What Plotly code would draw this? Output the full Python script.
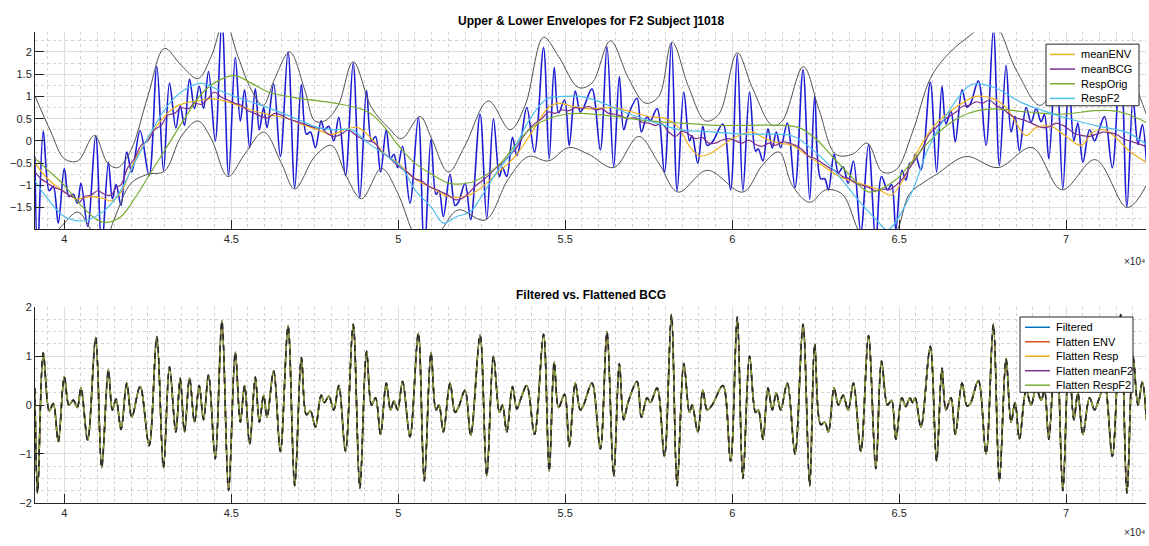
import plotly.graph_objects as go

# ---------------- data (sample index) ----------------
beat_x = [39120, 39200, 39370, 39550, 39670, 39820, 40000, 40140, 40270, 40390, 40500, 40700,
          40940, 41120, 41320, 41440, 41550, 41700, 41870, 42020, 42270, 42540, 42770, 42970,
          43150, 43340, 43470, 43600, 43750, 43900, 44040, 44170, 44320, 44520, 44720, 44920,
          45120, 45270, 45400, 45550, 45720, 45840, 45970, 46070, 46270, 46470, 46700, 46900,
          47100, 47250, 47370, 47520, 47690, 47790, 47920, 48070, 48220, 48420, 48650, 48850,
          49050, 49200, 49320, 49470, 49640, 49770, 49870, 49980, 50130, 50350, 50600, 50780,
          50980, 51130, 51220, 51350, 51550, 51700, 51800, 52000, 52170, 52450, 52650, 52850,
          53030, 53120, 53250, 53420, 53550, 53680, 53850, 54080, 54350, 54520, 54670, 54800,
          54980, 55120, 55300, 55450, 55550, 55800, 56050, 56250, 56450, 56620, 56750, 56880,
          57150, 57280, 57450, 57550, 57750, 57970, 58180, 58350, 58550, 58720, 58800, 58970,
          59120, 59250, 59400, 59720, 59950, 60150, 60320, 60520, 60700, 60780, 60920, 61070,
          61200, 61320, 61450, 61650, 61880, 62120, 62320, 62470, 62650, 62770, 62880, 63050,
          63180, 63320, 63470, 63630, 63850, 64080, 64300, 64470, 64650, 64770, 64900, 65080,
          65200, 65320, 65400, 65480, 65650, 65930, 66120, 66280, 66400, 66550, 66680, 66880,
          67030, 67130, 67370, 67600, 67820, 68000, 68200, 68350, 68470, 68600, 68800, 68950,
          69100, 69250, 69350, 69480, 69700, 69900, 70080, 70230, 70350, 70500, 70700, 70850,
          70980, 71150, 71380, 71630, 71820, 72000, 72150, 72280, 72400]

bcg_flat = [0.35, -1.80, 1.07, -0.12, 0.03, -0.75, 0.58, 0.00, 0.10, -0.05, 0.35, -0.72,
            1.38, -1.28, 0.72, -0.10, 0.12, -0.50, 0.45, -0.25, 0.38, -0.83, 1.40, -1.28,
            0.78, -0.55, 0.55, -0.55, 0.55, -0.35, 0.40, -0.30, 0.62, -1.10, 1.72, -1.75,
            1.08, -0.35, 0.40, -0.80, 0.57, -0.35, 0.20, -0.25, 0.70, -0.95, 1.62, -1.65,
            0.97, -0.20, -0.12, -0.45, 0.20, 0.05, 0.18, -0.10, 0.40, -0.95, 1.65, -1.70,
            1.10, 0.00, 0.15, -0.60, 0.45, -0.10, 0.08, -0.10, 0.48, -0.65, 1.47, -1.55,
            1.07, -0.10, 0.00, -0.55, 0.45, -0.15, -0.05, 0.30, -0.62, 1.43, -1.45, 1.00,
            -0.15, 0.00, -0.55, 0.38, -0.08, 0.15, 0.40, -0.60, 1.45, -1.35, 0.88, -0.05,
            0.22, -0.85, 0.45, -0.10, 0.00, 0.45, -0.90, 1.50, -1.45, 0.85, -0.30, 0.05,
            0.48, -0.25, 0.15, 0.05, 0.35, -1.05, 1.85, -1.65, 0.85, -0.15, 0.00, -0.55,
            0.30, -0.10, 0.00, 0.40, -1.15, 1.80, -1.50, 1.00, -0.15, -0.10, -0.70, 0.35,
            -0.10, 0.25, -0.10, 0.45, -1.00, 1.65, -1.65, 1.25, -0.40, -0.35, -0.55, 0.35,
            0.00, 0.20, -0.10, 0.45, -0.95, 1.42, -1.30, 0.90, 0.00, 0.10, -0.70, 0.15,
            -0.03, 0.15, 0.05, 0.15, -0.45, 1.20, -1.15, 0.75, -0.10, 0.15, -0.60, 0.45,
            -0.02, 0.03, 0.50, -1.00, 1.65, -1.55, 0.95, -0.35, 0.05, -0.70, 0.30, 0.00,
            0.35, 0.10, 0.30, -0.70, 1.60, -1.75, 1.00, -0.30, 0.25, -0.60, 0.15, -0.10,
            0.12, 0.40, -1.05, 1.85, -1.80, 1.00, 0.00, 0.47, -0.30]

bcg_raw = [-0.35, -2.55, 0.22, -1.12, -1.02, -1.85, -0.62, -1.25, -1.20, -1.40, -0.95, -1.92,
           0.12, -2.43, -0.48, -1.30, -0.98, -1.45, -0.25, -0.70, 0.23, -0.78, 1.67, -0.66,
           1.30, 0.29, 0.79, 0.35, 1.39, 0.73, 1.23, 0.73, 1.56, 0.00, 2.72, -0.77,
           1.88, 0.45, 1.15, -0.15, 1.17, 0.25, 0.75, 0.30, 1.28, -0.35, 2.00, -1.05,
           1.27, 0.15, 0.20, -0.15, 0.45, 0.25, 0.33, 0.00, 0.53, -0.78, 1.75, -1.27,
           1.13, 0.00, 0.10, -0.70, 0.25, -0.40, -0.30, -0.60, -0.12, -1.40, 0.52, -2.55,
           0.05, -1.20, -1.12, -1.70, -0.75, -1.45, -1.38, -0.95, -1.77, 0.60, -1.75, 0.50,
           -0.80, -0.60, -0.80, 0.08, -0.33, 0.05, 0.75, -0.25, 2.10, -0.40, 1.65, 0.63,
           0.92, -0.10, 1.12, 0.65, 0.75, 1.17, -0.20, 2.12, -0.58, 1.45, 0.25, 0.57,
           0.96, 0.20, 0.55, 0.45, 0.73, -0.70, 2.20, -1.12, 1.10, 0.00, 0.12, -0.50,
           0.33, -0.10, -0.03, 0.38, -1.10, 1.94, -1.12, 1.10, -0.23, -0.18, -0.45, 0.27,
           -0.16, 0.20, -0.15, 0.40, -1.05, 1.60, -1.32, 1.00, -0.85, -0.85, -1.10, -0.30,
           -0.72, -0.58, -0.95, -0.45, -2.05, -0.08, -2.30, -0.80, -1.10, -0.98, -2.00, -0.66,
           -0.88, -0.50, -0.50, -0.30, -0.65, 1.32, -0.70, 1.23, 0.38, 0.67, -0.02, 1.15,
           0.76, 0.83, 1.35, -0.10, 2.50, -0.55, 1.70, 0.20, 0.55, -0.22, 0.75, 0.42,
           0.73, 0.43, 0.60, -0.40, 1.95, -1.08, 1.35, 0.00, 0.40, -0.48, 0.25, 0.00,
           0.24, 0.55, -0.60, 2.00, -1.48, 0.95, -0.08, 0.37, -0.45]

upper_x = [39130, 39600, 40000, 40400, 40900, 41300, 41600, 42000, 42500, 43000, 43500, 44000,
           44400, 44800, 45200, 45600, 45950, 46300, 46750, 47200, 47500, 47800, 48200, 48650,
           49200, 49700, 50100, 50650, 51000, 51500, 52000, 52700, 53350, 53800, 54350, 54800,
           55400, 55800, 56350, 56900, 57400, 57800, 58200, 58700, 59200, 59600, 60150, 60600,
           61200, 61500, 62130, 62600, 63100, 63600, 64040, 64500, 64900, 65400, 65930, 66400,
           67000, 67800, 68500, 69200, 69600, 70100, 70800, 71600, 72200, 72400]
upper_y = [1.00, 0.20, -0.40, -0.45, 0.12, -0.50, -0.60, -0.20, 1.00, 2.08, 1.70, 1.40,
           1.90, 2.70, 1.90, 1.15, 0.80, 1.40, 2.00, 1.15, 0.45, 0.45, 0.80, 1.78,
           0.75, 0.30, 0.05, 0.55, 0.05, -0.70, -0.10, 0.90, 0.25, 0.80, 2.33, 1.90,
           1.20, 1.30, 2.25, 1.40, 0.85, 1.00, 2.22, 1.20, 0.45, 0.60, 1.98, 1.20,
           0.35, 0.45, 1.67, 0.70, -0.30, -0.30, -0.05, -0.70, -0.65, 0.20, 1.40, 1.90,
           2.30, 2.65, 1.60, 0.80, 1.10, 1.50, 1.40, 2.10, 1.00, 0.60]

lower_x = [39130, 39600, 40000, 40400, 40800, 41120, 41500, 42000, 42500, 43000, 43500, 44000,
           44400, 44900, 45400, 45970, 46500, 46900, 47500, 48000, 48450, 48900, 49500, 50000,
           50400, 50800, 51300, 51800, 52600, 53300, 53900, 54500, 55100, 55700, 56450, 57200,
           57800, 58380, 59250, 60320, 60900, 61400, 61800, 62320, 62800, 63300, 63850, 64300,
           64900, 65300, 65800, 66120, 67000, 67960, 68980, 69870, 70870, 71830, 72400]
lower_y = [-2.60, -2.20, -1.85, -1.60, -2.00, -2.45, -1.75, -0.95, -0.75, -0.68, 0.10, 0.45,
           0.05, -0.80, -0.30, 0.20, -0.50, -1.08, -0.35, -0.10, -0.80, -1.30, -0.62, -1.20,
           -2.00, -2.60, -2.00, -1.55, -1.78, -0.85, -0.35, -0.45, -0.15, -0.30, -0.60, 0.10,
           -0.50, -1.15, -0.66, -1.15, -0.55, -0.25, -1.00, -1.38, -1.10, -1.20, -2.10, -2.35,
           -2.05, -1.20, -0.90, -0.75, -0.35, -0.60, -0.15, -1.10, -0.42, -1.50, -1.00]

mean_bcg_x = [39130, 39300, 39500, 39700, 39900, 40100, 40300, 40450, 40600, 40800, 41000, 41200,
              41400, 41550, 41700, 41900, 42100, 42300, 42500, 42700, 42900, 43100, 43300, 43500,
              43700, 43900, 44100, 44300, 44500, 44700, 44900, 45100, 45300, 45500, 45700, 45900,
              46100, 46300, 46500, 46700, 46900, 47100, 47300, 47500, 47700, 47900, 48100, 48300,
              48500, 48700, 48900, 49100, 49300, 49500, 49700, 49900, 50100, 50300, 50500, 50700,
              50900, 51100, 51300, 51500, 51700, 51900, 52100, 52300, 52500, 52700, 52900, 53100,
              53300, 53500, 53700, 53900, 54100, 54300, 54500, 54700, 54900, 55100, 55300, 55500,
              55700, 55900, 56100, 56300, 56500, 56700, 56900, 57100, 57300, 57500, 57700, 57900,
              58100, 58300, 58500, 58700, 58900, 59100, 59300, 59500, 59700, 59900, 60100, 60300,
              60500, 60700, 60900, 61100, 61300, 61500, 61700, 61900, 62100, 62300, 62500, 62700,
              62900, 63100, 63300, 63500, 63700, 63900, 64100, 64300, 64500, 64700, 64900, 65100,
              65300, 65500, 65700, 65900, 66100, 66300, 66500, 66700, 66900, 67100, 67300, 67500,
              67700, 67900, 68100, 68300, 68500, 68700, 68900, 69100, 69300, 69500, 69700, 69900,
              70100, 70300, 70500, 70700, 70900, 71100, 71300, 71500, 71700, 71900, 72100, 72300,
              72430]
mean_bcg_y = [-0.70, -0.85, -0.95, -1.05, -1.10, -1.20, -1.28, -1.38, -1.25, -1.22, -1.12, -1.20,
              -1.22, -1.05, -0.98, -0.60, -0.40, -0.10, 0.00, 0.25, 0.35, 0.58, 0.62, 0.75,
              0.72, 0.85, 0.82, 0.95, 1.10, 0.98, 0.92, 0.85, 0.80, 0.68, 0.62, 0.55,
              0.52, 0.62, 0.58, 0.50, 0.45, 0.40, 0.35, 0.30, 0.28, 0.15, 0.10, 0.15,
              0.25, 0.15, 0.05, 0.00, -0.05, -0.25, -0.35, -0.50, -0.62, -0.72, -0.85, -0.90,
              -1.02, -1.08, -1.15, -1.22, -1.32, -1.30, -1.18, -1.02, -0.90, -0.78, -0.62, -0.52,
              -0.35, -0.20, 0.05, 0.25, 0.40, 0.50, 0.65, 0.62, 0.70, 0.68, 0.75, 0.72,
              0.78, 0.70, 0.72, 0.62, 0.60, 0.55, 0.50, 0.52, 0.42, 0.40, 0.35, 0.38,
              0.20, 0.10, 0.22, 0.15, 0.05, 0.08, -0.05, -0.05, 0.02, 0.05, 0.00, -0.05,
              0.02, -0.08, -0.12, -0.05, -0.10, -0.02, -0.05, -0.10, -0.20, -0.35, -0.40, -0.50,
              -0.60, -0.68, -0.80, -0.85, -0.95, -1.00, -1.05, -1.12, -1.08, -1.10, -1.00, -0.85,
              -0.62, -0.40, -0.15, 0.15, 0.30, 0.45, 0.55, 0.65, 0.78, 0.80, 0.88, 0.85,
              0.92, 0.80, 0.72, 0.60, 0.52, 0.48, 0.42, 0.35, 0.30, 0.32, 0.40, 0.35,
              0.25, 0.15, 0.12, 0.10, 0.15, 0.20, 0.18, 0.15, 0.05, 0.00, -0.05, -0.10,
              -0.15]

mean_env_x = [39130, 39500, 40000, 40400, 40800, 41200, 41400, 41700, 42100, 42500, 43000, 43300,
              43600, 44000, 44400, 44800, 45200, 45800, 46200, 46700, 47200, 47600, 48000, 48500,
              48800, 49200, 49600, 50000, 50500, 51000, 51500, 52000, 52400, 53000, 53500, 54000,
              54500, 54800, 55200, 55800, 56400, 57000, 57500, 58000, 58400, 58700, 59000, 59300,
              59700, 60000, 60300, 60600, 61000, 61400, 61800, 62200, 62700, 63200, 63800, 64400,
              64750, 65100, 65500, 66000, 66500, 67000, 67300, 67800, 68200, 68500, 68800, 69100,
              69550, 70000, 70450, 70800, 71150, 71450, 71850, 72430]
mean_env_y = [-0.50, -0.85, -1.15, -1.30, -1.25, -1.30, -1.35, -1.15, -0.45, 0.05, 0.55, 0.75,
              0.85, 0.90, 0.95, 0.90, 0.80, 0.65, 0.58, 0.50, 0.35, 0.25, 0.15, 0.28,
              0.30, 0.05, -0.30, -0.50, -0.85, -1.05, -1.25, -1.25, -1.10, -0.70, -0.35, 0.20,
              0.75, 0.85, 0.78, 0.72, 0.75, 0.65, 0.55, 0.50, 0.30, -0.10, -0.33, -0.30,
              -0.10, 0.05, 0.15, 0.20, 0.05, -0.05, -0.10, -0.30, -0.55, -0.80, -0.95, -1.10,
              -1.22, -0.90, -0.30, 0.30, 0.65, 0.90, 1.00, 0.95, 0.75, 0.40, 0.12, 0.30,
              0.33, 0.10, -0.10, 0.20, 0.25, 0.10, -0.20, -0.50]

resp_orig_x = [39130, 39500, 40000, 40500, 41000, 41300, 41700, 42100, 42600, 43100, 43600, 44100,
               44600, 45100, 45600, 46100, 47100, 48100, 49100, 49600, 50000, 50500, 51000, 51500,
               51800, 52300, 53000, 53500, 54000, 54500, 55000, 55500, 56500, 57500, 58500, 59500,
               60500, 61500, 62000, 62500, 63000, 63500, 64100, 64850, 65350, 65850, 66350, 66850,
               67350, 67850, 68850, 69850, 70850, 71350, 71850, 72430]
resp_orig_y = [-0.40, -0.65, -1.00, -1.45, -1.78, -1.83, -1.70, -1.30, -0.70, -0.10, 0.50, 1.05,
               1.35, 1.47, 1.30, 1.10, 0.95, 0.85, 0.65, 0.30, -0.10, -0.50, -0.75, -0.95,
               -0.97, -0.90, -0.55, -0.10, 0.30, 0.50, 0.60, 0.62, 0.55, 0.45, 0.40, 0.35,
               0.35, 0.35, 0.30, 0.05, -0.35, -0.75, -1.15, -0.90, -0.50, -0.05, 0.30, 0.55,
               0.68, 0.72, 0.65, 0.60, 0.68, 0.68, 0.60, 0.40]

resp_f2_x = [39130, 39500, 40000, 40500, 40800, 41300, 41700, 42100, 42600, 43100, 43600, 44100,
             44600, 45100, 46100, 47100, 47600, 48100, 48600, 49100, 50100, 50500, 51000, 51350,
             51750, 52150, 52450, 52950, 53450, 53950, 54450, 54950, 55450, 55950, 56950, 57950,
             58450, 59450, 60450, 61450, 61850, 62850, 63850, 64350, 64650, 65350, 65850, 66350,
             66850, 67200, 67850, 68700, 69850, 70850, 71850, 72430]
resp_f2_y = [-0.90, -1.30, -1.70, -1.80, -1.75, -1.50, -1.10, -0.50, 0.20, 0.80, 1.15, 1.30,
             1.15, 1.00, 0.75, 0.45, 0.30, 0.25, 0.25, -0.05, -0.60, -1.10, -1.50, -1.85,
             -1.70, -1.60, -1.30, -0.70, -0.20, 0.50, 0.95, 1.00, 1.00, 0.90, 0.60, 0.35,
             0.25, 0.20, 0.15, 0.15, 0.10, -0.50, -1.40, -1.80, -2.00, -1.20, -0.20, 0.50,
             1.05, 1.28, 1.20, 0.85, 0.55, 0.35, 0.18, -0.10]

x_tick_vals = [40000, 45000, 50000, 55000, 60000, 65000, 70000]
x_tick_text = ["4", "4.5", "5", "5.5", "6", "6.5", "7"]
top_y_ticks = [-1.5, -1, -0.5, 0, 0.5, 1, 1.5, 2]
bot_y_ticks = [-2, -1, 0, 1, 2]
top_legend_names = ["meanENV", "meanBCG", "RespOrig", "RespF2"]
top_legend_colors = ["#EDB120", "#7E2F8E", "#77AC30", "#4DBEEE"]
bottom_names = ["Filtered", "Flatten ENV", "Flatten Resp", "Flatten meanF2", "Flatten RespF2"]
bottom_colors = ["#0072BD", "#D95319", "#EDB120", "#7E2F8E", "#77AC30"]

# ---------------- styling ----------------
W, H = 1149, 546
FONT = "Liberation Sans, Arial, Helvetica, sans-serif"
AX = "#262626"
GRID = "#dedede"
MINOR = "#d2d2d2"
ENV_GRAY = "#505050"


def px(x):
    return x / W


def py(y):
    return 1 - y / H


fig = go.Figure()

# top panel
fig.add_trace(go.Scatter(x=beat_x, y=bcg_raw, mode="lines", line=dict(color="#1c1cd2", width=1.6, shape="spline"),
                         showlegend=False, xaxis="x", yaxis="y", hoverinfo="skip"))
fig.add_trace(go.Scatter(x=upper_x, y=upper_y, mode="lines", line=dict(color=ENV_GRAY, width=1, shape="spline"),
                         showlegend=False, xaxis="x", yaxis="y"))
fig.add_trace(go.Scatter(x=lower_x, y=lower_y, mode="lines", line=dict(color=ENV_GRAY, width=1, shape="spline"),
                         showlegend=False, xaxis="x", yaxis="y"))
top_series = [(mean_env_x, mean_env_y), (mean_bcg_x, mean_bcg_y), (resp_orig_x, resp_orig_y), (resp_f2_x, resp_f2_y)]
for (sx, sy), name, col in zip(top_series, top_legend_names, top_legend_colors):
    fig.add_trace(go.Scatter(x=sx, y=sy, mode="lines", name=name, showlegend=False,
                             line=dict(color=col, width=1.2, shape="spline"), xaxis="x", yaxis="y"))

# bottom panel
for name, col in zip(bottom_names, bottom_colors):
    fig.add_trace(go.Scatter(x=beat_x, y=bcg_flat, mode="lines", name=name, showlegend=False,
                             line=dict(color=col, width=1.5, shape="spline"),
                             xaxis="x2", yaxis="y2"))
fig.add_trace(go.Scatter(x=beat_x, y=bcg_flat, mode="lines", showlegend=False,
                         line=dict(color="#2a2a2a", width=1.6, dash="6px,5px", shape="spline"),
                         xaxis="x2", yaxis="y2"))


def xaxis_style(anchor):
    return dict(domain=[px(35), px(1146)], range=[39123, 72390], anchor=anchor,
                tickvals=x_tick_vals, ticktext=x_tick_text, ticks="inside", ticklen=9,
                tickcolor=AX, tickwidth=1, showline=True, linecolor=AX, linewidth=1,
                showgrid=True, gridcolor=GRID, gridwidth=1, zeroline=False,
                tickfont=dict(family=FONT, size=11, color=AX),
                minor=dict(dtick=500, tick0=0, showgrid=True, gridcolor=MINOR, griddash="dot", gridwidth=1))


def yaxis_style(domain, rng, ticks, anchor):
    return dict(domain=domain, range=rng, anchor=anchor, tickvals=ticks, ticks="inside", ticklen=9,
                tickcolor=AX, tickwidth=1, showline=True, linecolor=AX, linewidth=1,
                showgrid=True, gridcolor=GRID, gridwidth=1, zeroline=False,
                tickfont=dict(family=FONT, size=11, color=AX),
                minor=dict(dtick=0.25, tick0=0, showgrid=True, gridcolor=MINOR, griddash="dot", gridwidth=1))


# hand-drawn legend boxes (MATLAB style, compact rows)
shapes = []
annotations = []


def add_legend(left, top, right, bottom, line_x0, line_x1, text_x, row0, step, names, colors):
    shapes.append(dict(type="rect", xref="paper", yref="paper", x0=px(left), x1=px(right),
                       y0=py(bottom), y1=py(top), line=dict(color=AX, width=1), fillcolor="white", layer="above"))
    for i, (n, c) in enumerate(zip(names, colors)):
        yy = row0 + i * step
        shapes.append(dict(type="line", xref="paper", yref="paper", x0=px(line_x0), x1=px(line_x1),
                           y0=py(yy), y1=py(yy), line=dict(color=c, width=1.5), layer="above"))
        annotations.append(dict(text=n, xref="paper", yref="paper", x=px(text_x), y=py(yy),
                                xanchor="left", yanchor="middle", showarrow=False,
                                font=dict(family=FONT, size=11, color="#000")))


add_legend(1046, 39, 1139, 102, 1050, 1075, 1079, 49.5, 15, top_legend_names, top_legend_colors)
add_legend(1020, 318, 1133, 395, 1025, 1050, 1054, 328.5, 14.8, bottom_names, bottom_colors)

annotations += [
    dict(text="<b>Upper &amp; Lower Envelopes for F2 Subject ]1018</b>", xref="paper", yref="paper",
         x=px((35 + 1146) / 2), y=py(15), xanchor="center", yanchor="middle",
         showarrow=False, font=dict(family=FONT, size=12, color="#000")),
    dict(text="<b>Filtered vs. Flattened BCG</b>", xref="paper", yref="paper",
         x=px((35 + 1146) / 2), y=py(296), xanchor="center", yanchor="middle",
         showarrow=False, font=dict(family=FONT, size=12, color="#000")),
    dict(text="×10⁴", xref="paper", yref="paper", x=px(1147), y=py(261),
         xanchor="right", yanchor="middle", showarrow=False, font=dict(family=FONT, size=10, color=AX)),
    dict(text="×10⁴", xref="paper", yref="paper", x=px(1147), y=py(538),
         xanchor="right", yanchor="middle", showarrow=False, font=dict(family=FONT, size=10, color=AX)),
]

fig.update_layout(
    width=W, height=H,
    margin=dict(l=0, r=0, t=0, b=0),
    paper_bgcolor="white", plot_bgcolor="white",
    font=dict(family=FONT, size=11, color=AX),
    xaxis=xaxis_style("y"),
    yaxis=yaxis_style([py(228), py(27)], [-1.98, 2.44], top_y_ticks, "x"),
    xaxis2=xaxis_style("y2"),
    yaxis2=yaxis_style([py(508), py(308)], [-2, 2], bot_y_ticks, "x2"),
    showlegend=False,
    hovermode=False,
    shapes=shapes,
    annotations=annotations,
)

fig.write_html("out.html", config={"displayModeBar": False, "staticPlot": True},
               post_script="document.body.style.margin='0px'; document.body.style.overflow='hidden';")
